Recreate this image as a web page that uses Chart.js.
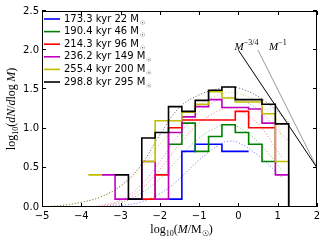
<!DOCTYPE html>
<html>
<head>
<meta charset="utf-8">
<script src="https://cdn.jsdelivr.net/npm/chart.js@4.4.0/dist/chart.umd.min.js"></script>
<style>
  html, body { margin: 0; padding: 0; background: #fff; }
  canvas { display: block; }
</style>
</head>
<body>
<canvas id="imf" width="327" height="245"></canvas>
<script>
// bin edges in log10(M/Msun)
var edges = [-3.82, -3.48, -3.14, -2.80, -2.46, -2.12, -1.78, -1.44, -1.10, -0.76, -0.42, -0.08, 0.26, 0.60, 0.94, 1.28];

// snapshots
var times  = [173.3, 190.4, 214.3, 236.2, 255.4, 298.8];
var masses = [22, 46, 96, 149, 200, 295];

// log10(dN/dlogM) per bin, null = empty bin
var hBlue    = [null, null, null, null, null, null, 0.10, 0.71, 0.80, 0.80, 0.71, 0.71, null, null, null];
var hGreen   = [null, null, null, null, null, null, 0.80, 1.07, 0.71, 0.90, 1.05, 0.95, 0.80, 0.58, null];
var hRed     = [null, null, null, null, 0.10, 0.41, 1.01, 1.11, 1.11, 1.11, 1.11, 1.22, 1.01, 1.01, null];
var hMagenta = [null, 0.41, 0.10, 0.10, 0.58, 0.10, 0.95, 1.15, 1.28, 1.37, 1.27, 1.27, 1.25, 1.07, 0.41];
var hYellow  = [0.41, null, null, null, 0.58, 1.10, 1.10, 1.21, 1.31, 1.47, 1.39, 1.34, 1.34, 1.19, 0.58];
var hBlack   = [null, null, 0.41, 0.10, 0.88, 0.95, 1.28, 1.22, 1.36, 1.49, 1.53, 1.37, 1.37, 1.31, 1.06];

// dotted fits
var fitX       = [-5.0, -4.5, -4.0, -3.5, -3.0, -2.5, -2.0, -1.5, -1.0, -0.5, -0.25, 0.0, 0.5, 1.0, 1.1, 1.28];
var fitBlue    = [null, null, null, 0.00, 0.02, 0.06, 0.17, 0.36, 0.60, 0.79, 0.84, 0.82, 0.66, 0.43, 0.38, null];
var fitGreen   = [null, null, null, 0.00, 0.05, 0.17, 0.36, 0.63, 0.88, 1.03, 1.05, 1.02, 0.83, 0.54, 0.47, null];
var fitRed     = [null, null, null, 0.01, 0.07, 0.22, 0.48, 0.80, 1.07, 1.23, 1.26, 1.24, 1.06, 0.71, 0.64, null];
var fitMagenta = [null, null, 0.00, 0.02, 0.09, 0.27, 0.58, 0.93, 1.21, 1.37, 1.40, 1.38, 1.24, 0.98, 0.93, 0.84];
var fitYellow  = [0.00, 0.02, 0.06, 0.13, 0.26, 0.48, 0.80, 1.08, 1.30, 1.43, 1.46, 1.45, 1.33, 1.05, 0.88, null];
var fitBlack   = [0.00, 0.02, 0.06, 0.13, 0.27, 0.52, 0.92, 1.27, 1.43, 1.51, 1.53, 1.52, 1.41, 1.22, 1.17, 1.08];

// power-law guides
var p34X = [0.0, 2.0], p34Y = [2.0, 0.5];
var p1X  = [0.5, 2.0], p1Y  = [2.0, 0.5];

var xTicks = [-5, -4, -3, -2, -1, 0, 1, 2];
var yTicks = [0.0, 0.5, 1.0, 1.5, 2.0, 2.5];

var cols  = ['#0000ff', '#008000', '#ff0000', '#bf00bf', '#bfbf00', '#000000'];
var dcols = ['rgba(0,0,255,0.55)', 'rgba(0,128,0,0.55)', 'rgba(255,0,0,0.5)', 'rgba(191,0,191,0.5)', 'rgba(191,191,0,0.6)', 'rgba(0,0,0,0.65)'];

function histPoints(vals) {
  var pts = [];
  for (var i = 0; i < vals.length; i++) {
    var v = vals[i];
    if (v === null) {
      if (pts.length && pts[pts.length - 1].y !== null) pts.push({x: edges[i], y: null});
      continue;
    }
    pts.push({x: edges[i], y: v}, {x: edges[i + 1], y: v});
  }
  if (vals[vals.length - 1] !== null) pts.push({x: edges[edges.length - 1], y: 0});
  return pts;
}
function zip(xs, ys) {
  var pts = [];
  for (var i = 0; i < xs.length; i++) pts.push({x: xs[i], y: ys[i]});
  return pts;
}

var hists = [hBlue, hGreen, hRed, hMagenta, hYellow, hBlack];
var fits  = [fitBlue, fitGreen, fitRed, fitMagenta, fitYellow, fitBlack];
var datasets = [];
for (var k = 0; k < hists.length; k++) {
  datasets.push({
    label: times[k].toFixed(1) + ' kyr ' + masses[k] + ' M',
    isHist: true,
    data: histPoints(hists[k]),
    borderColor: cols[k], borderWidth: 1.6,
    borderJoinStyle: 'miter', borderCapStyle: 'butt',
    pointRadius: 0, tension: 0, spanGaps: false,
    order: 5 - k
  });
}
for (var k = 0; k < fits.length; k++) {
  datasets.push({
    data: zip(fitX, fits[k]),
    borderColor: dcols[k], borderWidth: 1, borderDash: [1, 2],
    pointRadius: 0, tension: 0.4, spanGaps: false,
    order: 20 + k
  });
}
datasets.push({ data: zip(p34X, p34Y), borderColor: '#000', borderWidth: 1, pointRadius: 0, order: 10 });
datasets.push({ data: zip(p1X, p1Y), borderColor: '#999', borderWidth: 1, pointRadius: 0, order: 11 });

function minus(v) { return (v < 0 ? '\u2212' : '') + Math.abs(v); }

// draws a run of math-ish text parts: [text, style] style: '', 'it', 'sub', 'sup'
function fontFor(st, size) {
  if (st === 'it') return 'italic ' + size + 'px "Liberation Serif"';
  if (st === 'sub' || st === 'sup') return Math.round(size * 0.7) + 'px "Liberation Serif"';
  return size + 'px "Liberation Serif"';
}
function runWidth(ctx, parts, size) {
  var w = 0;
  parts.forEach(function (p) {
    ctx.font = fontFor(p[1], size);
    w += ctx.measureText(p[0]).width;
  });
  return w;
}
function drawRun(ctx, parts, x, y, size) {
  parts.forEach(function (p) {
    ctx.font = fontFor(p[1], size);
    var dy = p[1] === 'sub' ? size * 0.25 : (p[1] === 'sup' ? -size * 0.42 : 0);
    ctx.fillText(p[0], x, y + dy);
    x += ctx.measureText(p[0]).width;
  });
}

var decor = {
  id: 'decor',
  afterDraw: function (chart) {
    var ctx = chart.ctx, a = chart.chartArea;
    var xs = chart.scales.x, ys = chart.scales.y;
    ctx.save();
    ctx.strokeStyle = '#000';
    ctx.lineWidth = 1;
    ctx.strokeRect(Math.round(a.left) + 0.5, Math.round(a.top) + 0.5, Math.round(a.right - a.left) - 1, Math.round(a.bottom - a.top) - 1);
    ctx.beginPath();
    xTicks.forEach(function (t) {
      var px = Math.round(xs.getPixelForValue(t)) + 0.5;
      ctx.moveTo(px, a.bottom); ctx.lineTo(px, a.bottom - 4);
      ctx.moveTo(px, a.top); ctx.lineTo(px, a.top + 4);
    });
    yTicks.forEach(function (t) {
      var py = Math.round(ys.getPixelForValue(t)) - 0.5;
      ctx.moveTo(a.left, py); ctx.lineTo(a.left + 4, py);
      ctx.moveTo(a.right, py); ctx.lineTo(a.right - 4, py);
    });
    ctx.stroke();

    // legend
    ctx.textBaseline = 'middle';
    ctx.fillStyle = '#000';
    var row = 0;
    chart.data.datasets.forEach(function (ds) {
      if (!ds.isHist) return;
      var y = a.top + 8 + row * 12.6;
      ctx.strokeStyle = ds.borderColor;
      ctx.lineWidth = 1.6;
      ctx.beginPath(); ctx.moveTo(a.left + 2, y); ctx.lineTo(a.left + 18, y); ctx.stroke();
      ctx.font = '10px "DejaVu Sans"';
      ctx.fillText(ds.label, a.left + 22, y);
      var w = ctx.measureText(ds.label).width;
      ctx.font = '6px "DejaVu Sans"';
      ctx.fillText('\u2609', a.left + 23 + w, y + 4);
      row++;
    });

    // guide labels
    ctx.textBaseline = 'alphabetic';
    ctx.fillStyle = '#000';
    drawRun(ctx, [['M', 'it'], ['\u22123/4', 'sup']], xs.getPixelForValue(-0.1), 50, 11);
    drawRun(ctx, [['M', 'it'], ['\u22121', 'sup']], xs.getPixelForValue(0.78), 50, 11);

    // x title
    var xt = [['log', ''], ['10', 'sub'], ['(', ''], ['M', 'it'], ['/', ''], ['M', ''], ['\u2609', 'sub'], [')', '']];
    var xw = runWidth(ctx, xt, 12);
    drawRun(ctx, xt, (a.left + a.right) / 2 - xw / 2 + 2, 233, 12);

    // y title
    var yt = [['log', ''], ['10', 'sub'], ['(', ''], ['dN', 'it'], ['/', ''], ['d', 'it'], ['log', ''], ['\u2009', ''], ['M', 'it'], [')', '']];
    var yw = runWidth(ctx, yt, 12);
    ctx.translate(15, (a.top + a.bottom) / 2);
    ctx.rotate(-Math.PI / 2);
    drawRun(ctx, yt, -yw / 2, 0, 12);
    ctx.restore();
  }
};

Chart.defaults.font.family = '"DejaVu Sans"';
Chart.defaults.font.size = 10;
Chart.defaults.color = '#000';

new Chart(document.getElementById('imf'), {
  type: 'line',
  data: { datasets: datasets },
  options: {
    responsive: false,
    animation: false,
    devicePixelRatio: 1,
    events: [],
    layout: { padding: { top: 11, right: 10, left: 0, bottom: 0 } },
    plugins: { legend: { display: false }, tooltip: { enabled: false } },
    scales: {
      x: {
        type: 'linear', min: -5, max: 2,
        grid: { display: false, drawTicks: false }, border: { display: false },
        afterBuildTicks: function (s) { s.ticks = xTicks.map(function (v) { return {value: v}; }); },
        ticks: { callback: function (v) { return minus(v); }, padding: 3, maxRotation: 0 },
        afterFit: function (s) { s.height = 38; }
      },
      y: {
        min: 0, max: 2.5,
        grid: { display: false, drawTicks: false }, border: { display: false },
        afterBuildTicks: function (s) { s.ticks = yTicks.map(function (v) { return {value: v}; }); },
        ticks: { callback: function (v) { return v.toFixed(1); }, padding: 3 },
        afterFit: function (s) { s.width = 42; }
      }
    }
  },
  plugins: [decor]
});
</script>
</body>
</html>
